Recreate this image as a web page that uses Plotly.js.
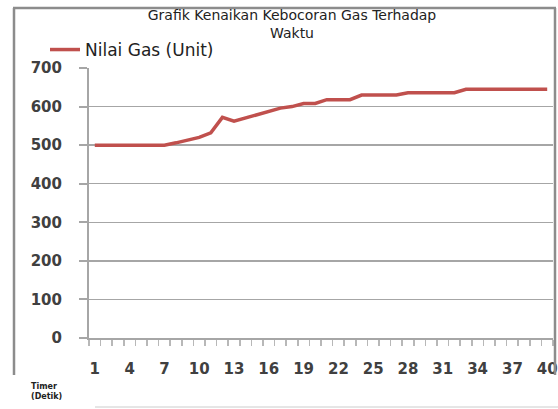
<!DOCTYPE html>
<html>
<head>
<meta charset="utf-8">
<script src="https://cdn.plot.ly/plotly-3.0.1.min.js"></script>
<style>
html,body{margin:0;padding:0;background:#fff;overflow:hidden;}
#chart{width:558px;height:409px;}
</style>
</head>
<body>
<div id="chart"></div>
<script>
// Data
var timeLabels = [1,2,3,4,5,6,7,8,9,10,11,12,13,14,15,16,17,18,19,20,21,22,23,24,25,26,27,28,29,30,31,32,33,34,35,36,37,38,39,40];
var gasValues = [500,500,500,500,500,500,500,506,512,520,532,572,562,570,580,588,596,600,608,608,618,618,618,630,630,630,630,636,636,636,636,636,645,645,645,645,645,645,645,645];
var shownTicks = [1,4,7,10,13,16,19,22,25,28,31,34,37,40];
var yTicks = [0,100,200,300,400,500,600,700];
var seriesName = "Nilai Gas (Unit)";
var chartTitle = "Grafik Kenaikan Kebocoran Gas Terhadap<br>Waktu";
var xAxisNote = "Timer<br>(Detik)";

// plot area: x 89..553, y 68..338
var L = 89, R = 5, T = 68, B = 71, W = 558 - L - R, H = 409 - T - B;
function px(x){ return (x - L) / W; }
function py(y){ return (409 - B - y) / H; }

var axisColor = "#a6a6a6";
var frameColor = "#8c8c8c";
var tickFont = {family:"DejaVu Sans, Verdana, sans-serif", size:15, color:"#404040", weight:"bold"};

// outer chart frame (open at the bottom, as in the reference) + faint bottom rule
var shapes = [
  {type:"line", xref:"paper", yref:"paper", layer:"above", x0:px(14), x1:px(14), y0:py(8), y1:py(375), line:{color:frameColor, width:2.5}},
  {type:"line", xref:"paper", yref:"paper", layer:"above", x0:px(13), x1:px(556), y0:py(8), y1:py(8), line:{color:frameColor, width:2.5}},
  {type:"line", xref:"paper", yref:"paper", layer:"above", x0:px(555), x1:px(555), y0:py(8), y1:py(375), line:{color:frameColor, width:2.5}},
  {type:"line", xref:"paper", yref:"paper", layer:"above", x0:px(95), x1:px(558), y0:py(407), y1:py(407), line:{color:"#cccccc", width:1}}
];

var trace = {
  x: timeLabels,
  y: gasValues,
  type: "scatter",
  mode: "lines",
  name: seriesName,
  line: {color:"#c0504d", width:3.5},
  showlegend: true
};

var layout = {
  width: 558, height: 409,
  margin: {l:L, r:R, t:T, b:B, pad:0},
  paper_bgcolor: "#ffffff",
  plot_bgcolor: "#ffffff",
  title: {
    text: chartTitle,
    font: {family:"DejaVu Sans, Verdana, sans-serif", size:14, color:"#222222"},
    xref: "paper", x: px(292), xanchor: "center",
    yref: "container", y: 1 - 20/409, yanchor: "middle"
  },
  showlegend: true,
  legend: {
    x: px(45), xanchor: "left",
    y: py(50), yanchor: "middle",
    font: {family:"DejaVu Sans, Verdana, sans-serif", size:17, color:"#222222"},
    bgcolor: "rgba(0,0,0,0)"
  },
  xaxis: {
    type: "linear",
    range: [0.5, 40.5],
    tickmode: "array",
    tickvals: shownTicks,
    ticktext: shownTicks.map(String),
    ticks: "",
    showgrid: false,
    zeroline: false,
    showline: true,
    linecolor: axisColor,
    linewidth: 2,
    tickfont: tickFont,
    ticklabelstandoff: 16,
    minor: {tick0: 0.5, dtick: 1, ticks: "outside", ticklen: 6, tickcolor: "#b8b8b8", tickwidth: 1.5, showgrid: false},
    fixedrange: true
  },
  yaxis: {
    range: [0, 700],
    tickmode: "array",
    tickvals: yTicks,
    ticks: "outside",
    ticklen: 8,
    tickcolor: axisColor,
    tickwidth: 2,
    showgrid: true,
    gridcolor: axisColor,
    gridwidth: 1.5,
    zeroline: false,
    showline: true,
    linecolor: axisColor,
    linewidth: 2,
    tickfont: tickFont,
    ticklabelstandoff: 14,
    fixedrange: true
  },
  shapes: shapes,
  annotations: [
    {text: xAxisNote, xref:"paper", yref:"paper", x: px(46), y: py(391), xanchor:"center", yanchor:"middle",
     showarrow:false, align:"left", font:{family:"DejaVu Sans, Verdana, sans-serif", size:8, color:"#222222", weight:"bold"}}
  ]
};

Plotly.newPlot("chart", [trace], layout, {displayModeBar:false, staticPlot:true});
</script>
</body>
</html>
